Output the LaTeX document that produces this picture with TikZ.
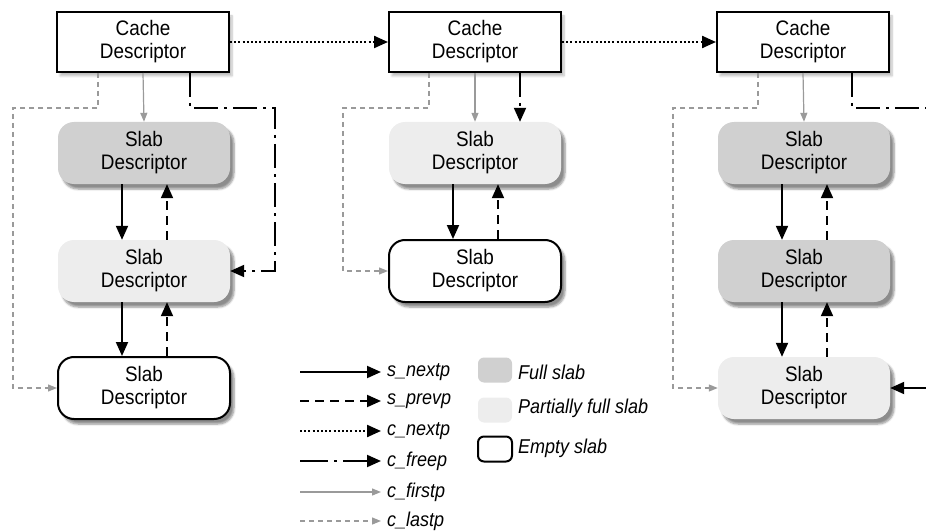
\documentclass[tikz,border=0pt]{standalone}
\usepackage{fontspec}
\setmainfont{Liberation Sans}[FakeStretch=0.9]
\usetikzlibrary{arrows.meta,shadows.blur,calc}
\definecolor{fullc}{HTML}{D0D0D0}
\definecolor{partc}{HTML}{EDEDED}
\definecolor{grayln}{HTML}{9A9A9A}
\begin{document}
\begin{tikzpicture}[x=1pt,y=-1pt,
  font=\fontsize{21}{23}\selectfont,
  cache/.style={draw=black,line width=2pt,fill=white,minimum width=172pt,minimum height=60pt,align=center,inner sep=0pt,
    blur shadow={shadow xshift=3pt,shadow yshift=-4pt,shadow blur steps=6,shadow opacity=25}},
  slabbase/.style={rounded corners=16pt,minimum width=172pt,minimum height=62pt,align=center,inner sep=0pt,
    blur shadow={shadow xshift=4pt,shadow yshift=-5pt,shadow blur steps=6,shadow opacity=45}},
  fullslab/.style={slabbase,fill=fullc},
  partslab/.style={slabbase,fill=partc},
  emptyslab/.style={slabbase,draw=black,line width=2pt,fill=white},
  tip/.style={-{Triangle[length=14pt,width=12pt]}},
  gtip/.style={-{Triangle[length=9pt,width=7pt]}},
  snext/.style={tip,line width=2pt,black},
  sprev/.style={tip,line width=2pt,black,dash pattern=on 9pt off 6pt},
  cnext/.style={tip,line width=2.2pt,black,dash pattern=on 2pt off 2.2pt},
  cfree/.style={tip,line width=2pt,black,dash pattern=on 24pt off 6pt on 3pt off 6pt},
  cfirst/.style={gtip,line width=1.2pt,grayln},
  clast/.style={gtip,line width=1.2pt,grayln,dash pattern=on 5pt off 4pt},
  lab/.style={anchor=west,font=\fontsize{20}{23}\selectfont\itshape,inner sep=0pt},
  swatch/.style={rounded corners=6pt,minimum width=34pt,minimum height=25pt,inner sep=0pt}
]
\useasboundingbox (0,0) rectangle (926,532);

% cache descriptors
\node[cache] (cache1) at (143,42) {Cache\\Descriptor};
\node[cache] (cache2) at (475,42) {Cache\\Descriptor};
\node[cache] (cache3) at (803,42) {Cache\\Descriptor};

% column 1
\node[fullslab] (s11) at (144,153) {Slab\\Descriptor};
\node[partslab] (s12) at (144,271) {Slab\\Descriptor};
\node[emptyslab] (s13) at (144,388) {Slab\\Descriptor};
% column 2
\node[partslab] (s21) at (475,153) {Slab\\Descriptor};
\node[emptyslab] (s22) at (475,271) {Slab\\Descriptor};
% column 3
\node[fullslab] (s31) at (804,153) {Slab\\Descriptor};
\node[fullslab] (s32) at (804,271) {Slab\\Descriptor};
\node[partslab] (s33) at (804,388) {Slab\\Descriptor};

% c_nextp
\draw[cnext] (cache1.east) -- (cache2.west);
\draw[cnext] (cache2.east) -- (cache3.west);

% s_nextp / s_prevp
\foreach \a/\b in {s11/s12,s12/s13,s21/s22,s31/s32,s32/s33}{
  \draw[snext] ([xshift=-22pt]\a.south) -- ([xshift=-22pt]\b.north);
  \draw[sprev] ([xshift=23pt]\b.north) -- ([xshift=23pt]\a.south);
}

% c_firstp
\draw[cfirst] (cache1.south) -- (s11.north);
\draw[cfirst] (cache2.south) -- (s21.north);
\draw[cfirst] (cache3.south) -- (s31.north);

% c_lastp
\coordinate (lb1) at (98,108);  \coordinate (la1) at (13,108);
\coordinate (lb2) at (429,108); \coordinate (la2) at (343,108);
\coordinate (lb3) at (758,108); \coordinate (la3) at (673,108);
\draw[clast] (cache1.south -| lb1) -- (lb1) -- (la1) |- (s13.west);
\draw[clast] (cache2.south -| lb2) -- (lb2) -- (la2) |- (s22.west);
\draw[clast] (cache3.south -| lb3) -- (lb3) -- (la3) |- (s33.west);

% c_freep
\coordinate (fb1) at (190,108); \coordinate (fa1) at (275,108);
\draw[cfree] (cache1.south -| fb1) -- (fb1) -- (fa1) |- (s12.east);
\coordinate (fb2) at (520,0);
\draw[cfree] (cache2.south -| fb2) -- (s21.north -| fb2);
\coordinate (fb3) at (852,108); \coordinate (fa3) at (926,108);
\draw[line width=2pt,black,dash pattern=on 24pt off 6pt on 3pt off 6pt] (cache3.south -| fb3) -- (fb3) -- (fa3);
\coordinate (fin3) at (926,388);
\draw[snext] (fin3) -- (s33.east);

% legend
\node[lab] (l1) at (387,372) {s\_nextp};
\node[lab] (l2) at (387,401) {s\_prevp};
\node[lab] (l3) at (387,431) {c\_nextp};
\node[lab] (l4) at (387,461) {c\_freep};
\node[lab] (l5) at (387,492) {c\_firstp};
\node[lab] (l6) at (387,521) {c\_lastp};
\coordinate (k1) at (300,372);
\coordinate (k2) at (300,401);
\coordinate (k3) at (300,431);
\coordinate (k4) at (300,461);
\coordinate (k5) at (300,492);
\coordinate (k6) at (300,521);
\draw[snext] (k1) -- ([xshift=-6pt]l1.west);
\draw[sprev] (k2) -- ([xshift=-6pt]l2.west);
\draw[cnext] (k3) -- ([xshift=-6pt]l3.west);
\draw[tip,line width=2pt,black,dash pattern=on 28pt off 6pt on 3pt off 6pt] (k4) -- ([xshift=-6pt]l4.west);
\draw[cfirst] (k5) -- ([xshift=-6pt]l5.west);
\draw[clast] (k6) -- ([xshift=-6pt]l6.west);

\node[swatch,fill=fullc] (w1) at (495,370) {};
\node[swatch,fill=partc] (w2) at (495,410) {};
\node[swatch,draw=black,line width=2pt,fill=white] (w3) at (495,449) {};
\node[lab] (t1) at (518,372) {Full slab};
\node[lab] (t2) at (518,408) {Partially full slab};
\node[lab] (t3) at (518,448) {Empty slab};
\end{tikzpicture}
\end{document}
